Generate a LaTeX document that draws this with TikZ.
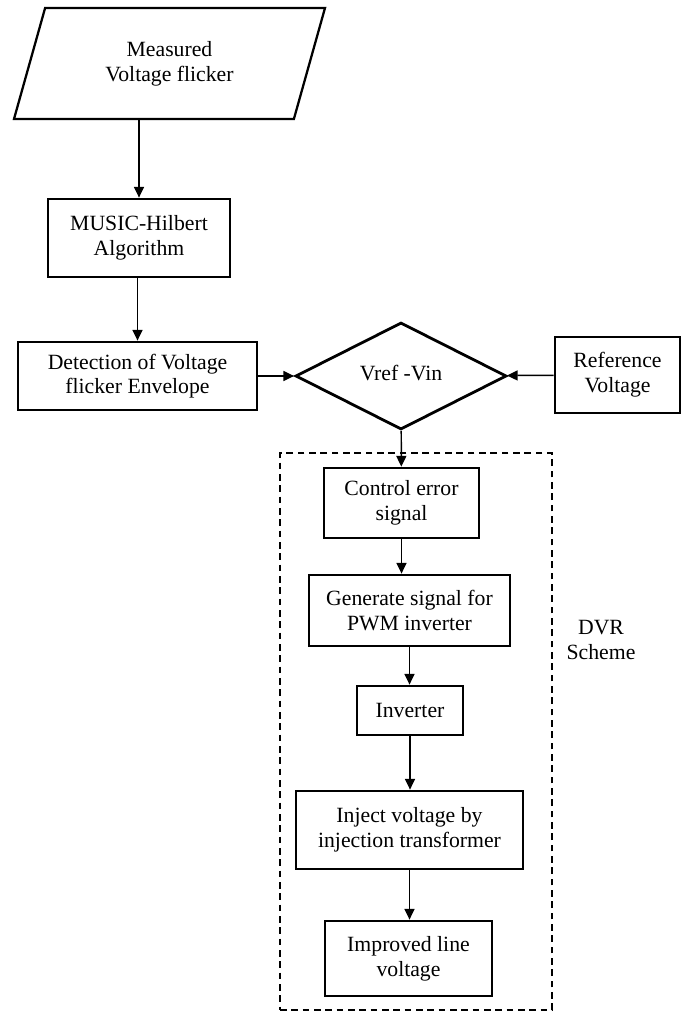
\documentclass[tikz,border=0pt]{standalone}
\usepackage{fontspec}
\setmainfont{Liberation Serif}
\usetikzlibrary{shapes.geometric, arrows.meta}
\tikzstyle{inputoutput} = [
    trapezium,
    trapezium left angle=55,
    trapezium right angle=125,
    trapezium stretches body=true,
    inner sep=0pt,
    line width=1.7pt,
    align=center,
    draw=black
]
\tikzstyle{process} = [
    rectangle,
    inner sep=0pt,
    line width=2.1pt,
    align=center,
    draw=black
]
\tikzstyle{decision} = [
    diamond,
    inner sep=0pt,
    line width=2.1pt,
    align=center,
    draw=black
]
\tikzstyle{group} = [
    rectangle,
    line width=1.2pt,
    dash pattern=on 5pt off 3.5pt,
    draw=black
]
\tikzstyle{arrow} = [line width=1.1pt,->,>={Triangle[length=8pt,width=7.5pt]}]

\begin{document}
\begin{tikzpicture}[x=0.75pt, y=-0.75pt,
    font=\fontsize{16.3}{18.5}\selectfont]
\useasboundingbox (0,0) rectangle (683,1012);

\node (dvr) [group, minimum width=204pt, minimum height=417.75pt]
at (416,731.5) {};

\node (input) [inputoutput, minimum width=233.25pt, minimum height=83.25pt]
at (169.5,63.5) {Measured\\Voltage flicker};

\node (music) [process, minimum width=136.5pt, minimum height=58.5pt]
at (139,238) {MUSIC-Hilbert\\Algorithm};

\node (detect) [process, minimum width=179.25pt, minimum height=51pt]
at (137.5,376) {Detection of Voltage\\flicker Envelope};

\node (compare) [decision, minimum width=158.25pt, minimum height=80.25pt]
at (401,376) {\raisebox{4pt}{Vref -Vin}};

\node (refvolt) [process, minimum width=93.75pt, minimum height=57pt]
at (617.5,375) {Reference\\Voltage};

\node (control) [process, minimum width=116.25pt, minimum height=52.5pt]
at (401.5,503) {Control error\\signal};

\node (generate) [process, minimum width=150.75pt, minimum height=53.25pt]
at (409.5,610.5) {Generate signal for\\PWM inverter};

\node (inverter) [process, minimum width=79.5pt, minimum height=36.75pt]
at (410,710.5) {Inverter};

\node (inject) [process, minimum width=170.25pt, minimum height=58.5pt]
at (409.5,830) {Inject voltage by\\injection transformer};

\node (improved) [process, minimum width=125.25pt, minimum height=56.25pt]
at (408.5,958.5) {Improved line\\voltage};

\node (dvrlabel) [align=center] at (601,640) {DVR\\Scheme};

\draw [arrow] (input.south -| music.north) -- (music.north);
\draw [arrow] (detect.north |- music.south) -- (detect.north);
\draw [arrow] (detect) -- (compare);
\draw [arrow] (refvolt) -- (compare);
\draw [arrow] (compare) -- (control);
\draw [arrow] (control.south) -- (control.south |- generate.north);
\draw [arrow] (generate.south) -- (generate.south |- inverter.north);
\draw [arrow] (inverter.south) -- (inverter.south |- inject.north);
\draw [arrow] (inject.south) -- (inject.south |- improved.north);

\end{tikzpicture}
\end{document}
